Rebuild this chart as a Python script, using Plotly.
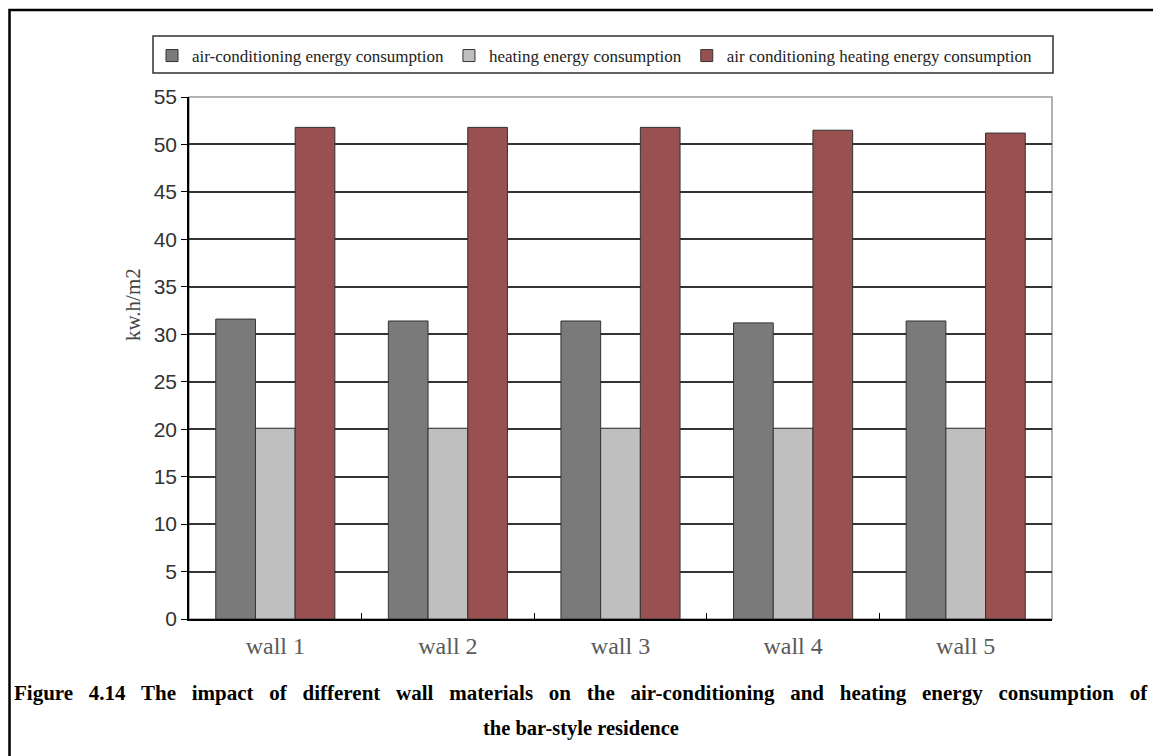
import plotly.graph_objects as go

categories = ["wall 1", "wall 2", "wall 3", "wall 4", "wall 5"]
ac_energy = [31.6, 31.4, 31.4, 31.2, 31.4]
heating_energy = [20.1, 20.1, 20.1, 20.1, 20.1]
total_energy = [51.8, 51.8, 51.8, 51.5, 51.2]

series_names = ["air-conditioning energy consumption",
                "heating energy consumption",
                "air conditioning heating energy consumption"]
series_colors = ["#7a7a7a", "#bfbfbf", "#985050"]
y_ticks = list(range(0, 56, 5))

caption1 = "Figure 4.14 The impact of different wall materials on the air-conditioning and heating energy consumption of"
caption2 = "the bar-style residence"

OFF = 8  # page body margin
W, H = 1161 - OFF, 756 - OFF
# screen-pixel positions of the plot area
L, R, T, B = 189, 1052, 97, 619

fig = go.Figure()
for name, vals, col in zip(series_names, [ac_energy, heating_energy, total_energy], series_colors):
    fig.add_trace(go.Bar(x=categories, y=vals, name=name,
                         marker=dict(color=col, line=dict(color="#333333", width=1))))

def px(x):
    return (x - L) / (R - L)

def py(y):
    return (B - y) / (B - T)

shapes = [
    dict(type="rect", xref="paper", yref="paper", x0=0, y0=0, x1=1, y1=1,
         line=dict(color="#9a9a9a", width=1.5), layer="below"),
    dict(type="rect", xref="paper", yref="paper", x0=px(9.5), y0=py(790), x1=px(1190), y1=py(10),
         line=dict(color="#000000", width=2.5)),
    dict(type="rect", xref="paper", yref="paper", x0=px(153), y0=py(73), x1=px(1053), y1=py(36),
         line=dict(color="#333333", width=1.5)),
]

sp = "\u00a0\u00a0 "
cap1 = caption1.replace(" ", sp)

fig.update_layout(
    width=W, height=H,
    margin=dict(l=L - OFF, r=1161 - R, t=T - OFF, b=756 - B),
    paper_bgcolor="white", plot_bgcolor="white",
    barmode="group", bargap=0.31, bargroupgap=0,
    showlegend=True,
    legend=dict(orientation="h", x=px(152), y=py(38), xanchor="left", yanchor="top",
                font=dict(family="Liberation Serif", size=17, color="#222222"),
                bgcolor="rgba(0,0,0,0)", borderwidth=0,
                traceorder="normal", itemwidth=30),
    xaxis=dict(showgrid=False, showline=True, linecolor="#000000", linewidth=1.5,
               ticks="inside", tickson="boundaries", ticklen=6, tickcolor="#000000",
               tickfont=dict(family="Liberation Serif", size=24, color="#5a5a5a"),
               ticklabelstandoff=4),
    yaxis=dict(range=[0, 55], tickvals=y_ticks, showgrid=True, gridcolor="#333333", gridwidth=1.5,
               showline=True, linecolor="#000000", linewidth=1.5,
               ticks="outside", ticklen=6, tickcolor="#000000", zeroline=False,
               tickfont=dict(family="Liberation Sans", size=21, color="#333333")),
    shapes=shapes,
    annotations=[
        dict(text="kw.h/m2", xref="paper", yref="paper", x=px(133), y=py(305), textangle=-90,
             showarrow=False, xanchor="center", yanchor="middle",
             font=dict(family="Liberation Serif", size=21, color="#444444")),
        dict(text="<b>" + cap1 + "</b>", xref="paper", yref="paper", x=px(581), y=py(693),
             showarrow=False, xanchor="center", yanchor="middle",
             font=dict(family="Liberation Serif", size=21, color="#000000")),
        dict(text="<b>" + caption2 + "</b>", xref="paper", yref="paper", x=px(581), y=py(728),
             showarrow=False, xanchor="center", yanchor="middle",
             font=dict(family="Liberation Serif", size=20.5, color="#000000")),
    ],
)

fig.write_html("out.html")
